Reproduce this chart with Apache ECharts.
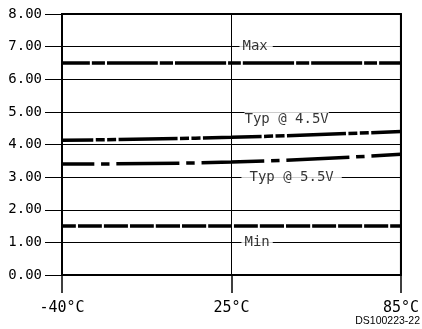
<!DOCTYPE html>
<html>
<head>
<meta charset="utf-8">
<script src="https://cdn.jsdelivr.net/npm/echarts@6/dist/echarts.min.js"></script>
<style>
html,body{margin:0;padding:0;background:#fff;}
#c{width:422px;height:329px;}
</style>
</head>
<body>
<div id="c"></div>
<script>
// ---- data ----
const categories = ['-40°C', '25°C', '85°C'];
const yTicks = [0, 1, 2, 3, 4, 5, 6, 7, 8];
const maxValues = [6.5, 6.5, 6.5];
const typ45Values = [4.13, 4.22, 4.40];
const typ55Values = [3.40, 3.46, 3.70];
const minValues = [1.5, 1.5, 1.5];
const annoText = ['Max', 'Typ @ 4.5V', 'Typ @ 5.5V', 'Min'];
const annoCat = ['25°C', '25°C', '25°C', '25°C'];
const annoY = [7, 4.78, 3, 1];
const footnote = 'DS100223-22';

// ---- styles ----
const MONO = 'DejaVu Sans Mono';
const annoStyle = [
  {distance: 8, padding: [0, 5, 0, 3]},
  {distance: 13, padding: [0, 0]},
  {distance: 10, padding: [0, 8, 0, 8]},
  {distance: 10, padding: [0, 3]}
];

const chart = echarts.init(document.getElementById('c'), null, {renderer: 'canvas'});

function lineSeries(name, data, dash, offset, width) {
  return {
    name: name, type: 'line', data: data, smooth: 0.45,
    symbol: 'none', silent: true, animation: false,
    lineStyle: {color: '#000', width: width, type: dash, dashOffset: offset, cap: 'butt'},
    z: 3
  };
}

const option = {
  animation: false,
  backgroundColor: '#fff',
  grid: {left: 62, right: 19, top: 14, bottom: 54, show: true, borderColor: '#000', borderWidth: 2, backgroundColor: 'transparent'},
  xAxis: {
    type: 'category', data: categories, boundaryGap: false,
    axisLine: {show: true, lineStyle: {color: '#000', width: 2}},
    axisTick: {show: true, length: 18, lineStyle: {color: '#000', width: 1.5}},
    axisLabel: {margin: 26, color: '#000', fontFamily: MONO, fontSize: 15},
    splitLine: {show: true, lineStyle: {color: '#000', width: 1}}
  },
  yAxis: {
    type: 'value', min: yTicks[0], max: yTicks[yTicks.length - 1], interval: 1,
    axisLine: {show: true, lineStyle: {color: '#000', width: 2}},
    axisTick: {show: true, length: 17, lineStyle: {color: '#000', width: 1}},
    axisLabel: {margin: 20, color: '#000', fontFamily: MONO, fontSize: 14, formatter: v => v.toFixed(2)},
    splitLine: {show: true, lineStyle: {color: '#000', width: 1}}
  },
  series: [
    lineSeries('Max', maxValues, [51, 2, 13, 2], 23, 3.5),
    lineSeries('Typ @ 4.5V', typ45Values, [59, 2.4, 9, 2.4, 9, 2.4], 27.6, 3.5),
    lineSeries('Typ @ 5.5V', typ55Values, [63, 6.8, 8.4, 6.8], 30.6, 3.5),
    lineSeries('Min', minValues, [24, 2], 10, 3.5),
    {
      type: 'scatter', symbolSize: 0, silent: true, z: 4,
      data: annoText.map((t, i) => ({
        name: t, value: [annoCat[i], annoY[i]],
        label: {
          show: true, position: 'right', formatter: '{b}',
          distance: annoStyle[i].distance, padding: annoStyle[i].padding,
          backgroundColor: '#fff', color: '#000',
          fontFamily: MONO, fontSize: 14
        }
      }))
    }
  ],
  graphic: [{
    type: 'text', right: 2, bottom: 2,
    style: {text: footnote, fill: '#000', font: '10.5px "Liberation Sans"'}
  }]
};
chart.setOption(option);
</script>
</body>
</html>
